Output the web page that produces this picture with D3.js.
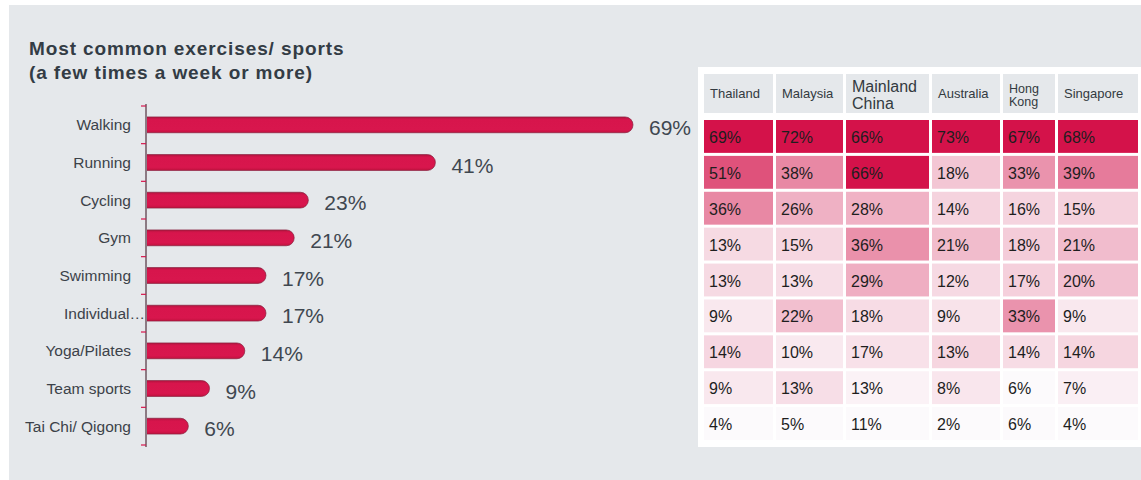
<!DOCTYPE html>
<html>
<head>
<meta charset="utf-8">
<script src="https://cdn.jsdelivr.net/npm/d3@7"></script>
<style>
  body { margin: 0; background: #fff; }
  svg { display: block; font-family: "Liberation Sans", Arial, sans-serif; }
</style>
</head>
<body>
<div id="chart"></div>
<script>
// exercise bar chart + country heat table

const categories = ["Walking", "Running", "Cycling", "Gym", "Swimming",
  "Individual…", "Yoga/Pilates", "Team sports", "Tai Chi/ Qigong"];
const overall = [69, 41, 23, 21, 17, 17, 14, 9, 6];

const countries = ["Thailand", "Malaysia", "Mainland China", "Australia", "Hong Kong", "Singapore"];
const headerLines = [["Thailand"], ["Malaysia"], ["Mainland", "China"], ["Australia"], ["Hong", "Kong"], ["Singapore"]];
const thailand      = [69, 51, 36, 13, 13, 9, 14, 9, 4];
const malaysia      = [72, 38, 26, 15, 13, 22, 10, 13, 5];
const mainlandChina = [66, 66, 28, 36, 29, 18, 17, 13, 11];
const australia     = [73, 18, 14, 21, 12, 9, 13, 8, 2];
const hongKong      = [67, 33, 16, 18, 17, 33, 14, 6, 6];
const singapore     = [68, 39, 15, 21, 20, 9, 14, 7, 4];
const columns = [thailand, malaysia, mainlandChina, australia, hongKong, singapore];

// layout (not data)
const W = 1141, H = 480;
const colW = [69, 67, 83, 68, 52, 80];
const headFont = [13, 13, 16, 13, 12.5, 13];

const svg = d3.select("#chart").append("svg")
  .attr("width", W).attr("height", H);

// grey panel
svg.append("rect").attr("x", 9).attr("y", 5).attr("width", W - 9).attr("height", H - 5)
  .attr("fill", "#e5e8eb");

// title
const title = svg.append("text").attr("x", 29).attr("y", 55)
  .attr("fill", "#333c45").style("font-weight", "bold").style("font-size", "19px")
  .style("letter-spacing", "0.9px");
title.append("tspan").attr("x", 29).text("Most common exercises/ sports");
title.append("tspan").attr("x", 29).attr("dy", 24).text("(a few times a week or more)");

// ---- bar chart ----
const x = d3.scaleLinear().domain([0, 100]).range([146, 146 + 705.8]);
const y = d3.scaleBand().domain(categories).range([106, 445]).paddingInner(0.58).paddingOuter(0.29);
const band = d3.scaleBand().domain(categories).range([106, 445]);

const defs = svg.append("defs");
const grad = defs.append("linearGradient").attr("id", "barGrad")
  .attr("x1", "0%").attr("x2", "0%").attr("y1", "0%").attr("y2", "100%");
grad.append("stop").attr("offset", "0%").attr("stop-color", "#b5143f");
grad.append("stop").attr("offset", "18%").attr("stop-color", "#d7154c");
grad.append("stop").attr("offset", "80%").attr("stop-color", "#d8164d");
grad.append("stop").attr("offset", "100%").attr("stop-color", "#c2123f");

function barPath(v, cat) {
  const x0 = x(0), x1 = x(v), y0 = y(cat), h = y.bandwidth(), r = h / 2;
  const p = d3.path();
  p.moveTo(x0, y0);
  p.lineTo(x1 - r, y0);
  p.arc(x1 - r, y0 + r, r, -Math.PI / 2, Math.PI / 2);
  p.lineTo(x0, y0 + h);
  p.closePath();
  return p.toString();
}

svg.append("g").selectAll("path")
  .data(categories)
  .join("path")
    .attr("d", (c, i) => barPath(overall[i], c))
    .attr("fill", "url(#barGrad)")
    .attr("stroke", "#86203e").attr("stroke-width", 0.7);

// axis line + ticks
svg.append("line").attr("x1", 146).attr("x2", 146).attr("y1", 104).attr("y2", 447)
  .attr("stroke", "#8c7a83").attr("stroke-width", 2);
const edges = categories.map(c => band(c)).concat([band.range()[1]]);
svg.append("g").selectAll("line").data(edges).join("line")
  .attr("x1", 141).attr("x2", 146).attr("y1", d => d).attr("y2", d => d)
  .attr("stroke", "#d6164d").attr("stroke-width", 1.2);

// category labels
svg.append("g").selectAll("text").data(categories).join("text")
  .attr("x", c => c.endsWith("…") ? 145 : 131)
  .attr("y", c => band(c) + band.bandwidth() / 2 + 5.5)
  .attr("text-anchor", "end")
  .attr("fill", "#3c4249").style("font-size", "15.5px")
  .text(c => c);

// value labels
svg.append("g").selectAll("text").data(categories).join("text")
  .attr("x", (c, i) => x(overall[i]) + 16)
  .attr("y", c => band(c) + band.bandwidth() / 2 + 10)
  .attr("fill", "#3f4750").style("font-size", "21px")
  .text((c, i) => overall[i] + "%");

// ---- heat table ----
svg.append("rect").attr("x", 698).attr("y", 67).attr("width", W - 698).attr("height", 380)
  .attr("fill", "#fff");

const colX = [];
colW.reduce((acc, w, i) => { colX[i] = acc; return acc + w + 3; }, 704);

const rowY = d3.scaleBand().domain(categories).range([120, 440]).paddingInner(0.084).paddingOuter(0);

const lowColor = "#fcfafc", highColor = "#d4124a";

countries.forEach((country, j) => {
  const vals = columns[j];
  const col = d3.scaleLinear().domain(d3.extent(vals)).range([lowColor, highColor])
    .interpolate(d3.interpolateRgb);
  const g = svg.append("g");

  // header
  g.append("rect").attr("x", colX[j]).attr("y", 74).attr("width", colW[j]).attr("height", 39)
    .attr("fill", "#e5e8eb");
  const fs = headFont[j];
  const lines = headerLines[j];
  const lh = fs * 1.08;
  const firstBase = 93.5 + fs * 0.35 - (lines.length - 1) * lh / 2 + (lines.length > 1 ? 1.5 : 0);
  g.append("text").attr("fill", "#333a40").style("font-size", fs + "px")
    .selectAll("tspan").data(lines).join("tspan")
      .attr("x", colX[j] + 6)
      .attr("y", (l, k) => firstBase + k * lh)
      .text(l => l);

  // cells
  g.selectAll("rect.cell").data(categories).join("rect").attr("class", "cell")
    .attr("x", colX[j]).attr("y", c => rowY(c))
    .attr("width", colW[j]).attr("height", rowY.bandwidth())
    .attr("fill", (c, i) => col(vals[i]));
  g.selectAll("text.val").data(categories).join("text").attr("class", "val")
    .attr("x", colX[j] + 5)
    .attr("y", c => rowY(c) + rowY.bandwidth() / 2 + 6.5)
    .attr("fill", "#1e1e1e").style("font-size", "16px")
    .text((c, i) => vals[i] + "%");
});
</script>
</body>
</html>
